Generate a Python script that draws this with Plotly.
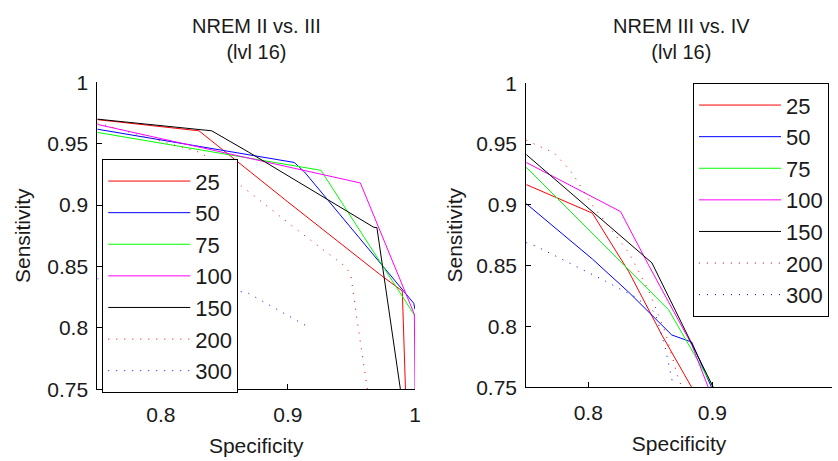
import plotly.graph_objects as go

# ---------------- data ----------------
series_names = ["25", "50", "75", "100", "150", "200", "300"]
series_colors = ["#ff0000", "#0000ff", "#00ff00", "#ff00ff", "#000000", "#ff0000", "#0000ff"]
series_dash = ["solid", "solid", "solid", "solid", "solid", "1px,7px", "1px,7px"]

# Left panel: NREM II vs. III
left_spec = [
    [0.75, 0.83, 0.90, 0.973, 0.990, 0.9925],
    [0.75, 0.905, 0.913, 0.999, 1.0],
    [0.75, 0.926, 1.0],
    [0.75, 0.957, 0.9995, 1.0],
    [0.75, 0.84, 0.8688, 0.9677, 0.970, 0.9885],
    [0.75, 0.832, 0.8636, 0.912, 0.9456, 0.9495, 0.9547, 0.9625],
    [0.75, 0.853, 0.8674, 0.9148],
]
left_sens = [
    [0.9696, 0.9605, 0.9025, 0.843, 0.830, 0.75],
    [0.9618, 0.9347, 0.927, 0.82, 0.815],
    [0.9592, 0.9283, 0.8096],
    [0.9657, 0.918, 0.811, 0.75],
    [0.970, 0.9605, 0.9433, 0.8818, 0.8818, 0.75],
    [0.967, 0.9425, 0.9154, 0.876, 0.8496, 0.843, 0.8044, 0.75],
    [0.84, 0.83, 0.829, 0.8014],
]

# Right panel: NREM III vs. IV
right_spec = [
    [0.75, 0.8033, 0.8327, 0.8593, 0.8833],
    [0.75, 0.8033, 0.8327, 0.8673, 0.8833, 0.8993],
    [0.75, 0.8647, 0.9007],
    [0.75, 0.826, 0.8487, 0.8833, 0.8967],
    [0.75, 0.8513, 0.9007],
    [0.75, 0.7727, 0.7873, 0.8033, 0.8327, 0.8487, 0.862, 0.8713, 0.8753],
    [0.75, 0.758, 0.814, 0.838, 0.854, 0.862, 0.8687],
]
right_sens = [
    [0.9167, 0.8932, 0.845, 0.793, 0.75],
    [0.901, 0.8555, 0.8281, 0.793, 0.7872, 0.75],
    [0.931, 0.8138, 0.75],
    [0.9349, 0.8945, 0.8503, 0.7852, 0.75],
    [0.9414, 0.8523, 0.75],
    [0.953, 0.9427, 0.9258, 0.8998, 0.8607, 0.8294, 0.7956, 0.7617, 0.75],
    [0.869, 0.866, 0.8372, 0.8242, 0.8112, 0.7826, 0.75],
]

y_tickvals = [0.75, 0.8, 0.85, 0.9, 0.95, 1.0]
y_ticktext = ["0.75", "0.8", "0.85", "0.9", "0.95", "1"]
left_x_tickvals = [0.8, 0.9, 1.0]
left_x_ticktext = ["0.8", "0.9", "1"]
right_x_tickvals = [0.8, 0.9, 1.0]
right_x_ticktext = ["0.8", "0.9", "1"]

titles = ["NREM II vs. III<br>(lvl 16)", "NREM III vs. IV<br>(lvl 16)"]

# ---------------- figure ----------------
FONT = "Liberation Sans, Arial, sans-serif"
FS = 21
TXT = "#1a1a1a"
W, H = 838, 461

fig = go.Figure()

for i, name in enumerate(series_names):
    fig.add_trace(go.Scatter(
        x=left_spec[i], y=left_sens[i], mode="lines", name=name,
        line=dict(color=series_colors[i], width=1, dash=series_dash[i]),
        xaxis="x", yaxis="y", legend="legend",
        showlegend=True, hoverinfo="skip"))
for i, name in enumerate(series_names):
    fig.add_trace(go.Scatter(
        x=right_spec[i], y=right_sens[i], mode="lines", name=name,
        line=dict(color=series_colors[i], width=1, dash=series_dash[i]),
        xaxis="x2", yaxis="y2", legend="legend2",
        showlegend=True, hoverinfo="skip"))

axis_common = dict(
    showline=True, linecolor="black", linewidth=1, mirror=False,
    ticks="inside", ticklen=5, tickcolor="black", tickwidth=1,
    showgrid=False, zeroline=False,
    tickfont=dict(family=FONT, size=FS, color=TXT),
)

legend_common = dict(
    xanchor="left", yanchor="top",
    bgcolor="white", bordercolor="black", borderwidth=1,
    font=dict(family=FONT, size=FS + 1, color=TXT),
    itemwidth=82,
)

fig.update_layout(
    width=W, height=H,
    margin=dict(l=0, r=0, t=0, b=0),
    paper_bgcolor="white", plot_bgcolor="white",
    font=dict(family=FONT, size=FS, color=TXT),
    xaxis=dict(domain=[98 / W, 418 / W], range=[0.75, 1.0], anchor="y",
               tickvals=left_x_tickvals, ticktext=left_x_ticktext, ticklabelstandoff=7,
               title=dict(text="Specificity", standoff=12,
                          font=dict(family=FONT, size=FS, color=TXT)),
               **axis_common),
    yaxis=dict(domain=[1 - 397 / H, 1 - 74 / H], range=[0.75, 1.0], anchor="x",
               tickvals=y_tickvals, ticktext=y_ticktext, ticklabelstandoff=4,
               title=dict(text="Sensitivity", standoff=10,
                          font=dict(family=FONT, size=FS, color=TXT)),
               **axis_common),
    xaxis2=dict(domain=[530 / W, 1.0], range=[0.75, 0.75 + 308 / 1250], anchor="y2",
                tickvals=right_x_tickvals, ticktext=right_x_ticktext, ticklabelstandoff=7,
                title=dict(text="Specificity", standoff=12,
                           font=dict(family=FONT, size=FS, color=TXT)),
                **axis_common),
    yaxis2=dict(domain=[1 - 395 / H, 1 - 75 / H], range=[0.75, 1.0], anchor="x2",
                tickvals=y_tickvals, ticktext=y_ticktext, ticklabelstandoff=4,
                title=dict(text="Sensitivity", standoff=7,
                           font=dict(family=FONT, size=FS, color=TXT)),
                **axis_common),
    legend=dict(x=103 / W, y=1 - 155 / H, **legend_common),
    legend2=dict(x=698 / W, y=1 - 75 / H, **legend_common),
    annotations=[
        dict(text=titles[0], x=258 / W, y=1 - 1 / H, xref="paper", yref="paper",
             xanchor="center", yanchor="top", showarrow=False,
             font=dict(family=FONT, size=FS - 1, color=TXT)),
        dict(text=titles[1], x=686 / W, y=1 - 1 / H, xref="paper", yref="paper",
             xanchor="center", yanchor="top", showarrow=False,
             font=dict(family=FONT, size=FS - 1, color=TXT)),
    ],
)

fig.write_html("out.html")
